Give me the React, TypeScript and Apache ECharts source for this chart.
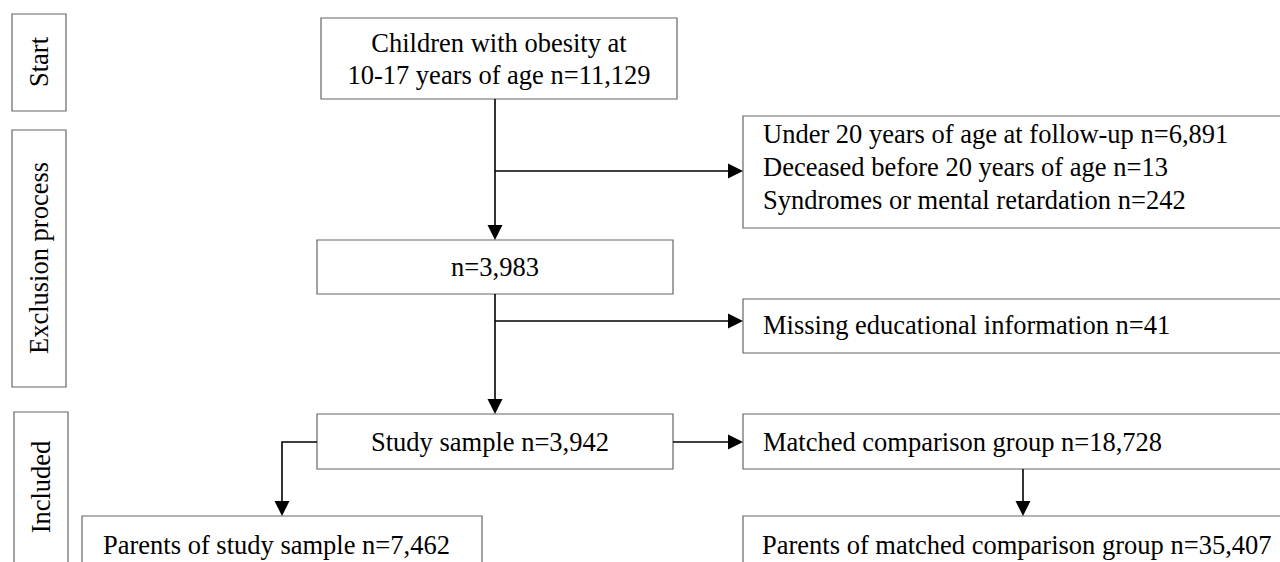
import React, { useEffect, useRef } from "react";
import * as echarts from "echarts";

// ---- data ----
const stageLabels = ["Start", "Exclusion process", "Included"];
const startLines = ["Children with obesity at", "10-17 years of age n=11,129"];
const exclusion1Lines = [
  "Under 20 years of age at follow-up n=6,891",
  "Deceased before 20 years of age n=13",
  "Syndromes or mental retardation n=242",
];
const remainingLabel = "n=3,983";
const exclusion2Label = "Missing educational information n=41";
const studyLabel = "Study sample n=3,942";
const matchedLabel = "Matched comparison group n=18,728";
const parentsStudyLabel = "Parents of study sample n=7,462";
const parentsMatchedLabel = "Parents of matched comparison group n=35,407";

const FONT = "Liberation Serif, Times New Roman, serif";
const FS = 26.5;
const BOX_STROKE = "#666";

function box(x: number, y: number, w: number, h: number) {
  return {
    type: "rect",
    shape: { x, y, width: w, height: h },
    style: { fill: "#fff", stroke: BOX_STROKE, lineWidth: 1.2 },
    z: 1,
  };
}

function txt(text: string, x: number, y: number, align: string = "left") {
  return {
    type: "text",
    x,
    y,
    style: {
      text,
      x: 0,
      y: 0,
      fill: "#000",
      fontSize: FS,
      fontFamily: FONT,
      align,
      verticalAlign: "middle",
      textAlign: align,
      textVerticalAlign: "middle",
    },
    z: 3,
  };
}

function vtxt(text: string, x: number, y: number) {
  return {
    type: "text",
    x,
    y,
    rotation: Math.PI / 2,
    style: {
      text,
      x: 0,
      y: 0,
      fill: "#000",
      fontSize: FS,
      fontFamily: FONT,
      align: "center",
      verticalAlign: "middle",
      textAlign: "center",
      textVerticalAlign: "middle",
    },
    z: 3,
  };
}

function seg(pts: number[][]) {
  return {
    type: "polyline",
    shape: { points: pts },
    style: { stroke: "#000", lineWidth: 1.6, fill: "none" },
    z: 2,
  };
}

function head(tx: number, ty: number, dir: "down" | "right") {
  const L = 15;
  const H = 7.5;
  const pts =
    dir === "down"
      ? [[tx - H, ty - L], [tx + H, ty - L], [tx, ty]]
      : [[tx - L, ty - H], [tx - L, ty + H], [tx, ty]];
  return { type: "polygon", shape: { points: pts }, style: { fill: "#000" }, z: 2 };
}

export default function App() {
  const ref = useRef<HTMLDivElement>(null);
  useEffect(() => {
    if (!ref.current) return;
    const chart = echarts.init(ref.current, undefined, { renderer: "svg" });
    const elements: any[] = [
      // stage boxes
      box(12, 14, 54, 97),
      vtxt(stageLabels[0], 39, 62),
      box(12, 130, 54, 257),
      vtxt(stageLabels[1], 39, 258),
      box(14, 412, 54, 170),
      vtxt(stageLabels[2], 41, 487),

      // top box
      box(321, 18, 356, 81),
      txt(startLines[0], 499, 43, "center"),
      txt(startLines[1], 499, 75, "center"),

      // exclusion 1
      box(743, 116, 560, 112),
      txt(exclusion1Lines[0], 763, 134),
      txt(exclusion1Lines[1], 763, 167),
      txt(exclusion1Lines[2], 763, 200),

      // remaining
      box(317, 240, 356, 54),
      txt(remainingLabel, 495, 267, "center"),

      // exclusion 2
      box(743, 299, 560, 54),
      txt(exclusion2Label, 763, 325),

      // study sample
      box(317, 414, 356, 55),
      txt(studyLabel, 490, 442, "center"),

      // matched
      box(743, 414, 560, 55),
      txt(matchedLabel, 763, 442),

      // parents
      box(82, 516, 400, 70),
      txt(parentsStudyLabel, 103, 545),
      box(743, 516, 560, 70),
      txt(parentsMatchedLabel, 762, 545),

      // connectors
      seg([[495, 99], [495, 226]]),
      head(495, 240, "down"),
      seg([[495, 171], [730, 171]]),
      head(743, 171, "right"),
      seg([[495, 294], [495, 400]]),
      head(495, 414, "down"),
      seg([[495, 321], [730, 321]]),
      head(743, 321, "right"),
      seg([[673, 442], [730, 442]]),
      head(743, 442, "right"),
      seg([[317, 442], [282, 442], [282, 502]]),
      head(282, 516, "down"),
      seg([[1023, 469], [1023, 502]]),
      head(1023, 516, "down"),
    ];
    chart.setOption({
      animation: false,
      backgroundColor: "#fff",
      graphic: { elements },
    });
    return () => chart.dispose();
  }, []);
  return (
    <div
      ref={ref}
      style={{ position: "fixed", left: 0, top: 0, width: 1280, height: 562, background: "#fff" }}
    />
  );
}
